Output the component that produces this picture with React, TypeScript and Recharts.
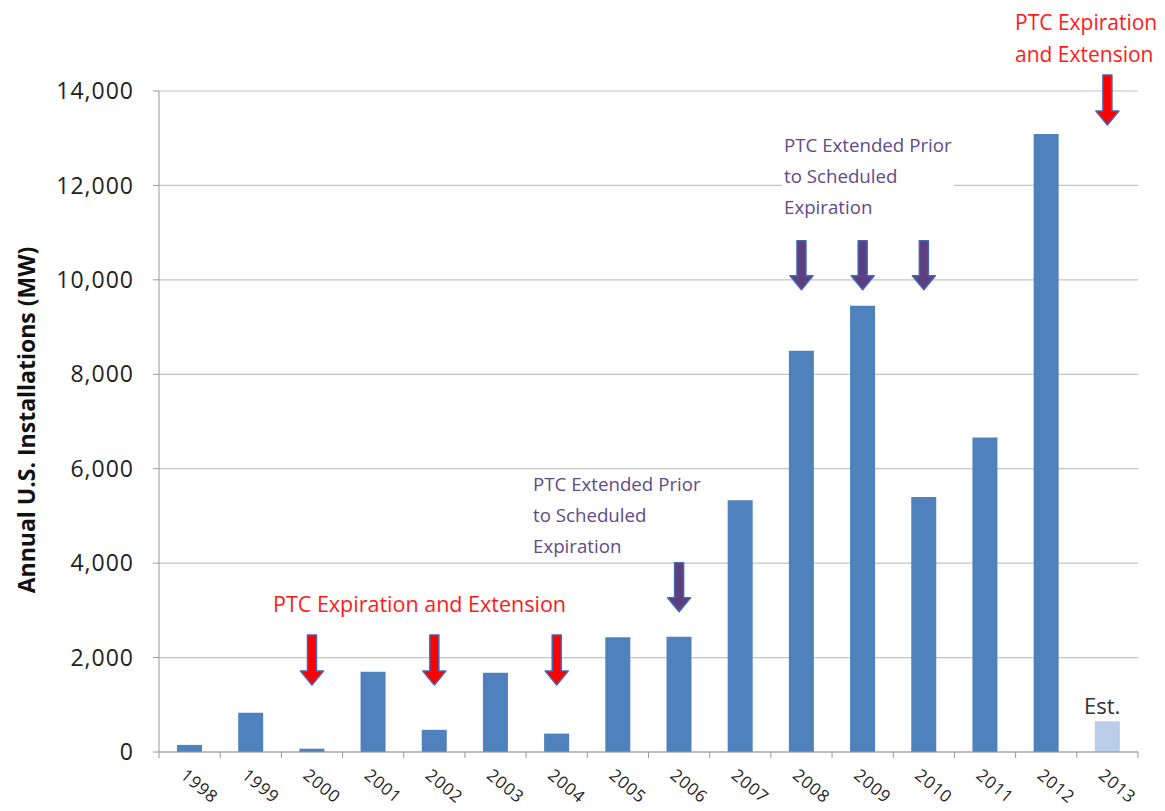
import { ComposedChart, Bar, Cell, Scatter, XAxis, YAxis, CartesianGrid, Label } from "recharts";

const years = ["1998", "1999", "2000", "2001", "2002", "2003", "2004", "2005", "2006", "2007", "2008", "2009", "2010", "2011", "2012", "2013"];
const installations = [150, 830, 70, 1700, 470, 1680, 390, 2430, 2440, 5330, 8500, 9450, 5400, 6660, 13090, 650];
const estimatedYears = ["2013"];
const yTicks = [0, 2000, 4000, 6000, 8000, 10000, 12000, 14000];

// arrow tips (MW) for the PTC events
const expirationYears = ["2000", "2002", "2004", "2013"];
const expirationTips = [1420, 1420, 1420, 13280];
const earlyExtensionYears = ["2006", "2008", "2009", "2010"];
const earlyExtensionTips = [2970, 9790, 9790, 9790];

const data = years.map((year, i) => {
  const e = expirationYears.indexOf(year);
  const p = earlyExtensionYears.indexOf(year);
  return {
    year,
    mw: installations[i],
    expTip: e >= 0 ? expirationTips[e] : null,
    extTip: p >= 0 ? earlyExtensionTips[p] : null,
  };
});

const FONT = "'Open Sans', sans-serif";
const PLOT_LEFT = 159;
const PLOT_RIGHT = 27;
const BAND = (1165 - PLOT_LEFT - PLOT_RIGHT) / years.length;

const makeArrow = (fill: string, len: number, key: string) => (props: any) => {
  const { cx, cy, payload } = props;
  if (!payload || payload[key] == null || cx == null || cy == null || isNaN(cy)) return <g />;
  const top = cy - len;
  const headTop = cy - 14;
  const pts = [
    [cx - 4.5, top],
    [cx + 4.5, top],
    [cx + 4.5, headTop],
    [cx + 11.5, headTop],
    [cx, cy],
    [cx - 11.5, headTop],
    [cx - 4.5, headTop],
  ]
    .map((p) => p.join(","))
    .join(" ");
  return <polygon points={pts} fill={fill} stroke="#4566b4" strokeWidth={1.5} strokeLinejoin="round" />;
};

const YearTick = (props: any) => {
  const { x, y, payload, index } = props;
  const half = payload?.offset || BAND / 2;
  return (
    <g>
      <line x1={x - half} y1={y - 8} x2={x - half} y2={y - 2} stroke="#999" />
      {index === years.length - 1 && <line x1={x + half} y1={y - 8} x2={x + half} y2={y - 2} stroke="#999" />}
      <text
        x={0}
        y={0}
        transform={`translate(${x - 10},${y + 17}) rotate(40)`}
        textAnchor="start"
        fontSize={17}
        letterSpacing={0.8}
        fontFamily={FONT}
        fill="#222"
      >
        {payload.value}
      </text>
    </g>
  );
};

const note = (left: number, top: number, color: string, lines: string[], size = 18, lh = 31, bg = false) => (
  <div
    style={{
      position: "absolute",
      left,
      top,
      color,
      fontFamily: FONT,
      fontSize: size,
      lineHeight: `${lh}px`,
      background: bg ? "#fff" : "transparent",
      whiteSpace: "nowrap",
      padding: "0 2px",
    }}
  >
    {lines.map((l) => (
      <div key={l}>{l}</div>
    ))}
  </div>
);

const App = () => {
  return (
    <div style={{ position: "absolute", left: 0, top: 0, width: 1165, height: 811, background: "#fff" }}>
      <ComposedChart width={1165} height={811} data={data} margin={{ top: 91, right: PLOT_RIGHT, bottom: 0, left: 0 }}>
        <CartesianGrid vertical={false} stroke="#c4c4c4" strokeWidth={1.2} />
        <XAxis
          dataKey="year"
          height={59}
          tickLine={false}
          axisLine={{ stroke: "#999" }}
          tick={<YearTick />}
          interval={0}
        />
        <YAxis
          width={PLOT_LEFT}
          domain={[0, 14000]}
          ticks={yTicks}
          tickFormatter={(v: number) => v.toLocaleString("en-US")}
          tick={{ fontSize: 23, fontFamily: FONT, fill: "#222", letterSpacing: 1 }}
          tickSize={6}
          tickMargin={19}
          axisLine={{ stroke: "#999" }}
          tickLine={{ stroke: "#999" }}
        >
          <Label
            content={() => (
              <text
                x={26}
                y={420}
                transform="rotate(-90 26 420)"
                textAnchor="middle"
                dominantBaseline="central"
                fontSize={23}
                fontWeight="bold"
                fontFamily={FONT}
                fill="#111"
              >
                Annual U.S. Installations (MW)
              </text>
            )}
          />
        </YAxis>
        <Bar dataKey="mw" barSize={25} isAnimationActive={false}>
          {data.map((d) => (
            <Cell key={d.year} fill={estimatedYears.includes(d.year) ? "#b9cde8" : "#4f81bd"} />
          ))}
        </Bar>
        <Scatter dataKey="expTip" shape={makeArrow("#ff0000", 50, "expTip")} isAnimationActive={false} />
        <Scatter dataKey="extTip" shape={makeArrow("#5c3f7e", 49, "extTip")} isAnimationActive={false} />
      </ComposedChart>
      {note(271, 588, "#ff1a1a", ["PTC Expiration and Extension"], 21.5)}
      {note(531, 468, "#5f4b8b", ["PTC Extended Prior", "to Scheduled", "Expiration"], 18.7)}
      {note(782, 129, "#5f4b8b", ["PTC Extended Prior", "to Scheduled", "Expiration"], 18.7, 31, true)}
      {note(1013, 6, "#ff1a1a", ["PTC Expiration", "and Extension"], 21, 32)}
      <div style={{ position: "absolute", left: 1084, top: 690, fontFamily: FONT, fontSize: 22, color: "#333" }}>Est.</div>
    </div>
  );
};

export default App;
